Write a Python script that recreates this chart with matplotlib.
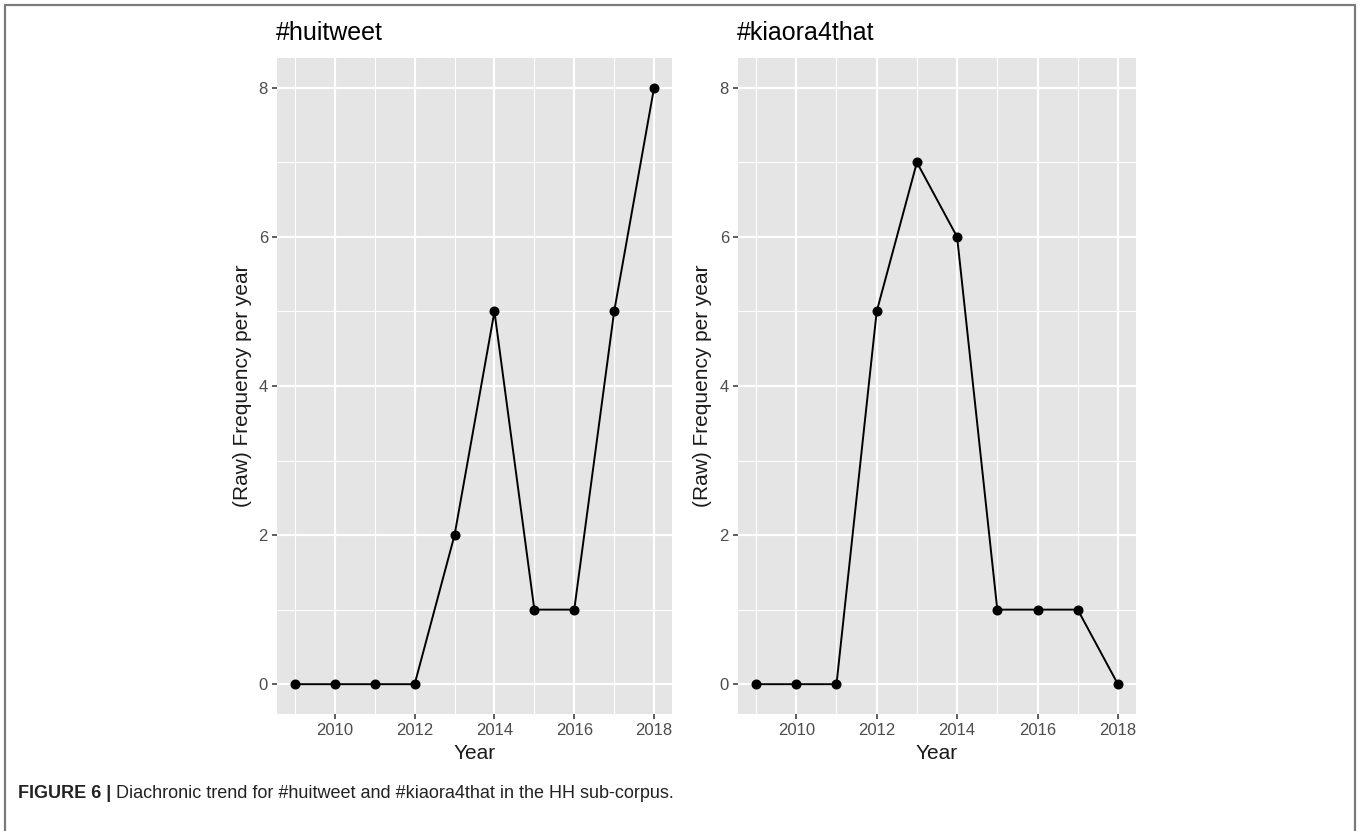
import matplotlib
matplotlib.use('Agg')
import matplotlib.pyplot as plt
from matplotlib.patches import Rectangle

# data
years = [2009, 2010, 2011, 2012, 2013, 2014, 2015, 2016, 2017, 2018]
huitweet = [0, 0, 0, 0, 2, 5, 1, 1, 5, 8]
kiaora4that = [0, 0, 0, 5, 7, 6, 1, 1, 1, 0]
titles = ['#huitweet', '#kiaora4that']
x_ticks = [2010, 2012, 2014, 2016, 2018]
y_ticks = [0, 2, 4, 6, 8]
caption_bold = 'FIGURE 6 |'
caption_text = ' Diachronic trend for #huitweet and #kiaora4that in the HH sub-corpus.'

plt.rcParams['font.family'] = ['Liberation Sans', 'DejaVu Sans']

W, H = 1360, 831
fig = plt.figure(figsize=(W / 100, H / 100), dpi=100)

def px(x0, y0, x1, y1):
    # pixel box (top-left origin) -> figure fraction rect
    return [x0 / W, 1 - y1 / H, (x1 - x0) / W, (y1 - y0) / H]

panels = [(px(277, 58, 672, 714), huitweet, 242),
          (px(738, 58, 1136, 714), kiaora4that, 703)]

for (rect, vals, ylab_x), title in zip(panels, titles):
    ax = fig.add_axes(rect)
    ax.set_facecolor('#e5e5e5')
    for s in ax.spines.values():
        s.set_visible(False)
    ax.set_xlim(2008.55, 2018.45)
    ax.set_ylim(-0.4, 8.4)
    ax.set_xticks(x_ticks)
    ax.set_yticks(y_ticks)
    ax.set_xticks([2009, 2011, 2013, 2015, 2017], minor=True)
    ax.set_yticks([1, 3, 5, 7], minor=True)
    ax.grid(True, which='major', color='white', lw=1.6)
    ax.grid(True, which='minor', color='white', lw=0.8)
    ax.set_axisbelow(True)
    ax.tick_params(which='major', colors='#333333', labelcolor='#4d4d4d',
                   labelsize=12, length=3.5, width=1.1, pad=3)
    ax.tick_params(which='minor', length=0)
    ax.plot(years, vals, color='black', lw=1.4, marker='o', ms=6.2,
            zorder=3)
    ax.set_xlabel('Year', fontsize=15, color='#1a1a1a', labelpad=4)
    ax.set_ylabel('(Raw) Frequency per year', fontsize=15, color='#1a1a1a',
                  va='center')
    ax.yaxis.set_label_coords((ylab_x - rect[0] * W) / (rect[2] * W), 0.5,
                              transform=ax.transAxes)
    ax.set_title(title, loc='left', fontsize=18, color='black', pad=13, x=-0.003)

# frame round the figure
fig.patches.append(Rectangle((5 / W, -0.01), 1350 / W, 1 - 5 / H + 0.01,
                             transform=fig.transFigure, fill=False,
                             edgecolor='#7a7a7a', lw=1.6))

cap_fam = ['Liberation Sans Narrow', 'Liberation Sans', 'DejaVu Sans']
t1 = fig.text(18 / W, 1 - 793 / H, caption_bold, fontsize=13,
              fontweight='bold', family=cap_fam, va='center', color='#222222')
fig.canvas.draw()
bb = t1.get_window_extent()
fig.text(bb.x1 / W, 1 - 793 / H, caption_text, fontsize=13,
         family=cap_fam, va='center', color='#222222')

fig.savefig('out.png', dpi=100)
